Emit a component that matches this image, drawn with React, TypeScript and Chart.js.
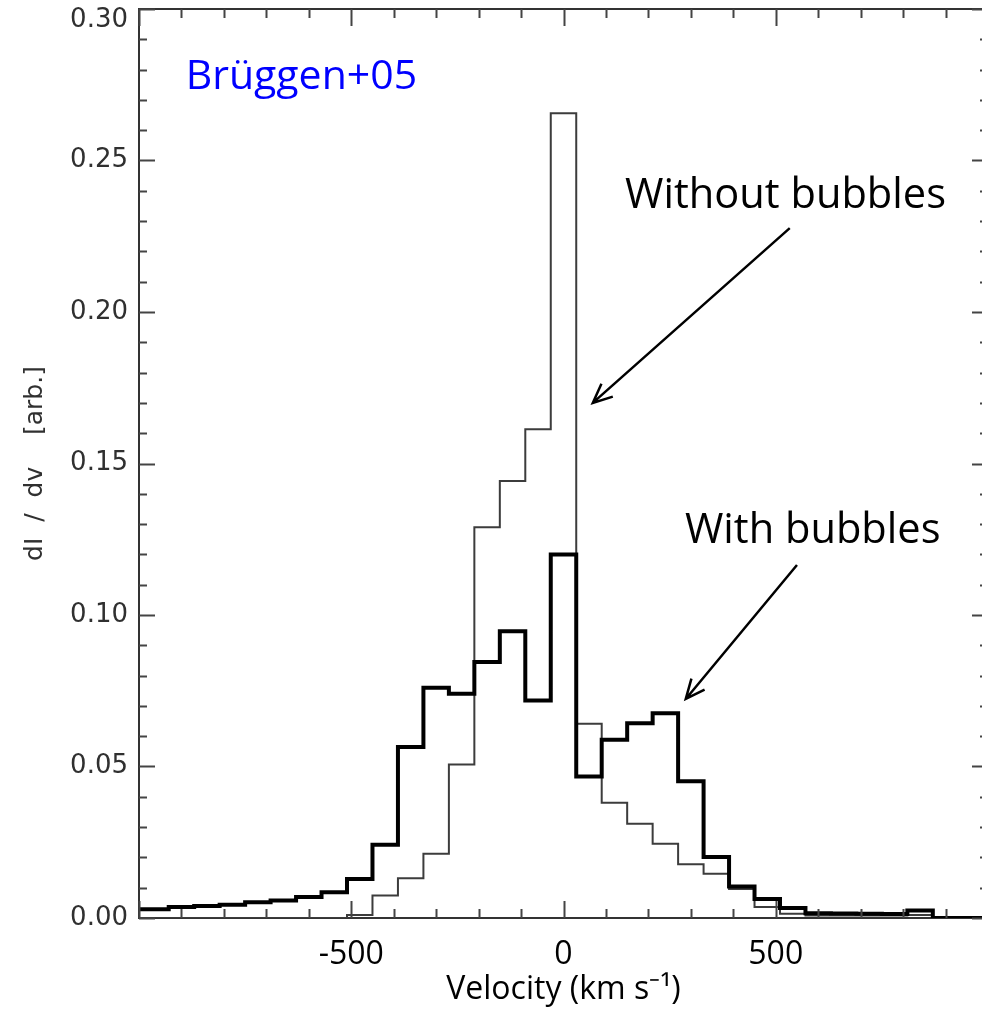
import React, { useEffect, useRef } from "react";
import { Chart, registerables } from "chart.js";

Chart.register(...registerables);

// Histogram bins: left edge of first bin and bin width (km/s)
const BIN_START = -990;
const BIN_WIDTH = 60;
const X_MIN = -1000;
const X_MAX = 1000;

// dI/dv per 60 km/s bin, bins from -990..-930 up to 930..990
const withBubbles = [
  0.0029, 0.0036, 0.004, 0.0044, 0.0052, 0.0058, 0.0069, 0.0085, 0.0129, 0.0242,
  0.0564, 0.076, 0.074, 0.0845, 0.0946, 0.0718, 0.12, 0.0467, 0.0588, 0.0643,
  0.0676, 0.0451, 0.0201, 0.0104, 0.0063, 0.0033, 0.0016, 0.0015, 0.0014, 0.0013,
  0.0025, 0, 0,
];
const withoutBubbles = [
  0, 0, 0, 0, 0, 0, 0, 0, 0.001, 0.0074,
  0.0131, 0.0212, 0.0507, 0.129, 0.1442, 0.1613, 0.2656, 0.0641, 0.038, 0.0311,
  0.0245, 0.0177, 0.0146, 0.0096, 0.0036, 0.0014, 0.0008, 0.0008, 0.0008, 0.0008,
  0.001, 0, 0,
];

const xTickLabels = [-500, 0, 500];
const Y_MAX = 0.3;
const Y_STEP = 0.05;

const TITLE_LABEL = "Brüggen+05";
const WITHOUT_LABEL = "Without bubbles";
const WITH_LABEL = "With bubbles";

// Annotation anchors in data units
const titleAnchor = { x: -890, y: 0.2736 };
const withoutAnchor = { x: 145, y: 0.2343 };
const withAnchor = { x: 286, y: 0.1238 };
const arrowWithout = { x0: 533, y0: 0.2277, x1: 69, y1: 0.170 };
const arrowWith = { x0: 550, y0: 0.1165, x1: 288, y1: 0.0723 };

function stepPoints(values: number[]) {
  const pts = values.map((v, i) => ({
    x: i === 0 ? X_MIN : BIN_START + i * BIN_WIDTH,
    y: v,
  }));
  pts.push({ x: BIN_START + values.length * BIN_WIDTH, y: values[values.length - 1] });
  return pts;
}

const decorPlugin = {
  id: "decor",
  afterDraw(chart: any) {
    const { ctx, chartArea, scales } = chart;
    const xs = scales.x;
    const ys = scales.y;
    const { left, right, top, bottom } = chartArea;
    ctx.save();
    // top and right frame
    ctx.strokeStyle = "#333";
    ctx.lineWidth = 2;
    ctx.beginPath();
    ctx.moveTo(left, top);
    ctx.lineTo(right, top);
    ctx.lineTo(right, bottom);
    ctx.stroke();

    // inward tick marks
    ctx.strokeStyle = "#444";
    ctx.lineWidth = 2;
    ctx.beginPath();
    for (let k = 0; k <= 30; k++) {
      const py = Math.round(ys.getPixelForValue(k / 100)) + 0.5;
      const len = k % 5 === 0 ? 16 : 8;
      ctx.moveTo(left, py);
      ctx.lineTo(left + len, py);
      ctx.moveTo(right, py);
      ctx.lineTo(right - len, py);
    }
    for (let k = -10; k <= 10; k++) {
      const px = Math.round(xs.getPixelForValue(k * 100)) + 0.5;
      const len = k % 5 === 0 ? 17 : 9;
      ctx.moveTo(px, bottom);
      ctx.lineTo(px, bottom - len);
      ctx.moveTo(px, top);
      ctx.lineTo(px, top + len);
    }
    ctx.stroke();

    // annotations
    ctx.textBaseline = "alphabetic";
    ctx.textAlign = "left";
    ctx.font = '41px "Open Sans"';
    ctx.fillStyle = "#0000ff";
    ctx.fillText(TITLE_LABEL, xs.getPixelForValue(titleAnchor.x), ys.getPixelForValue(titleAnchor.y));
    ctx.font = '41.6px "Open Sans"';
    ctx.fillStyle = "#000";
    ctx.fillText(WITHOUT_LABEL, xs.getPixelForValue(withoutAnchor.x), ys.getPixelForValue(withoutAnchor.y));
    ctx.fillText(WITH_LABEL, xs.getPixelForValue(withAnchor.x), ys.getPixelForValue(withAnchor.y));

    const drawArrow = (a: any) => {
      const x0 = xs.getPixelForValue(a.x0);
      const y0 = ys.getPixelForValue(a.y0);
      const x1 = xs.getPixelForValue(a.x1);
      const y1 = ys.getPixelForValue(a.y1);
      const ang = Math.atan2(y1 - y0, x1 - x0);
      const head = 21;
      const spread = 0.42;
      ctx.strokeStyle = "#000";
      ctx.lineWidth = 2.5;
      ctx.beginPath();
      ctx.moveTo(x0, y0);
      ctx.lineTo(x1, y1);
      ctx.moveTo(x1 - head * Math.cos(ang - spread), y1 - head * Math.sin(ang - spread));
      ctx.lineTo(x1, y1);
      ctx.lineTo(x1 - head * Math.cos(ang + spread), y1 - head * Math.sin(ang + spread));
      ctx.stroke();
    };
    drawArrow(arrowWithout);
    drawArrow(arrowWith);
    ctx.restore();
  },
};

export default function App() {
  const canvasRef = useRef<HTMLCanvasElement | null>(null);

  useEffect(() => {
    const canvas = canvasRef.current;
    if (!canvas) return;
    const chart = new Chart(canvas, {
      type: "line",
      data: {
        datasets: [
          {
            label: "With bubbles",
            data: stepPoints(withBubbles),
            borderColor: "#000",
            borderWidth: 4,
            stepped: true,
            pointRadius: 0,
            fill: false,
            borderJoinStyle: "miter",
          },
          {
            label: "Without bubbles",
            data: stepPoints(withoutBubbles),
            borderColor: "#3c3c3c",
            borderWidth: 2,
            stepped: true,
            pointRadius: 0,
            fill: false,
            borderJoinStyle: "miter",
          },
        ],
      },
      options: {
        responsive: false,
        animation: false,
        events: [],
        layout: { padding: { left: 0, top: 9, right: 12, bottom: 0 } },
        plugins: {
          legend: { display: false },
          tooltip: { enabled: false },
        },
        scales: {
          x: {
            type: "linear",
            position: "bottom",
            min: X_MIN,
            max: X_MAX,
            grid: { display: false, drawTicks: false },
            border: { display: true, color: "#333", width: 2 },
            ticks: {
              stepSize: 500,
              autoSkip: false,
              maxRotation: 0,
              padding: 18,
              color: "#000",
              font: { family: "Open Sans", size: 32 },
              callback: (v: any) => (xTickLabels.includes(Number(v)) ? String(v) : ""),
            },
            title: {
              display: true,
              text: "Velocity (km s⁻¹)",
              color: "#000",
              font: { family: "Open Sans", size: 32 },
              padding: { top: 0, bottom: 0 },
            },
            afterFit: (s: any) => {
              s.height = 91;
              s.paddingLeft = 0;
              s.paddingRight = 0;
            },
          },
          y: {
            type: "linear",
            min: 0,
            max: Y_MAX,
            grid: { display: false, drawTicks: false },
            border: { display: true, color: "#333", width: 2 },
            ticks: {
              stepSize: Y_STEP,
              padding: 11,
              color: "#303030",
              font: { family: "DejaVu Sans", size: 26, lineHeight: 0.85 },
              callback: (v: any) => {
                const s = Number(v).toFixed(2);
                return Math.abs(Number(v) - Y_MAX) < 1e-9 ? ["", s] : s;
              },
            },
            title: {
              display: true,
              text: "dI  /  dv    [arb.]",
              color: "#303030",
              font: { family: "DejaVu Sans", size: 25 },
              padding: { top: 20, bottom: 0 },
            },
            afterFit: (s: any) => {
              s.width = 139;
              s.paddingTop = 0;
              s.paddingBottom = 0;
            },
          },
        },
      },
      plugins: [decorPlugin],
    });
    return () => chart.destroy();
  }, []);

  return (
    <div
      style={{
        position: "fixed",
        left: 0,
        top: 0,
        width: 982,
        height: 1009,
        overflow: "hidden",
        background: "#fff",
      }}
    >
      <canvas ref={canvasRef} width={1000} height={1009} style={{ display: "block" }} />
    </div>
  );
}
